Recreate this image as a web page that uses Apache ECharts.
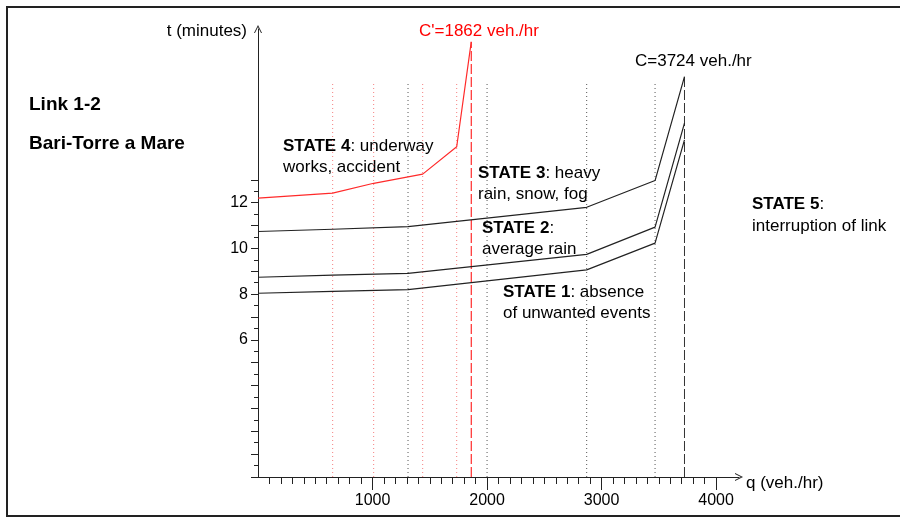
<!DOCTYPE html>
<html>
<head>
<meta charset="utf-8">
<script src="https://cdn.jsdelivr.net/npm/echarts@6/dist/echarts.min.js"></script>
<style>
html, body { margin: 0; padding: 0; background: #fff; }
#chart { width: 900px; height: 518px; }
</style>
</head>
<body>
<div id="chart"></div>
<script>
// flow q (veh./hr) where the travel-time curves bend
const qState = [0, 652, 1310, 2870, 3467, 3724];
const state1 = [8.04, 8.12, 8.2, 9.06, 10.23, 14.75];
const state2 = [8.74, 8.83, 8.91, 9.74, 10.93, 15.48];
const state3 = [10.74, 10.84, 10.95, 11.8, 12.97, 17.52];
const qState4 = [0, 652, 1010, 1438, 1735, 1862];
const state4 = [12.2, 12.42, 12.85, 13.25, 14.45, 19.04];

// dotted guides and capacities
const redGuides = [652, 1010, 1438, 1735];
const blackGuides = [1310, 2000, 2870, 3467];
const guideTop = 17.26;
const capRed = 1862, capRedTop = 19.04;
const capBlack = 3724, capBlackTop = 17.52;

// tick labels
const xLabels = [1000, 2000, 3000, 4000];
const yLabels = [6, 8, 10, 12];

const FONT = '"Liberation Sans", Arial, sans-serif';
const AXIS = '#222';
const arrow = 'path://M0,10 L5,0 L10,10 L8.8,10 L5,2.6 L1.2,10 Z';

const xMinor = [], yMajor = [], yMinor = [];
for (let v = 100; v <= 4000; v += 100) if (v % 1000) xMinor.push(v);
for (let v = 0; v <= 13; v++) yMajor.push(v);
for (let v = 0.5; v < 13; v += 1) yMinor.push(v);

const pts = (xs, ys) => xs.map((x, i) => [x, ys[i]]);

function vline(q, top, color, dash) {
    return {
        type: 'line', data: [[q, 0], [q, top]], symbol: 'none', silent: true,
        lineStyle: { color: color, width: 1, type: dash }
    };
}
function curve(xs, ys, color) {
    return {
        type: 'line', data: pts(xs, ys), symbol: 'none', silent: true,
        lineStyle: { color: color, width: 1.2 }
    };
}

const series = [];
redGuides.forEach(q => series.push(vline(q, guideTop, '#f57f7f', [1, 3])));
blackGuides.forEach(q => series.push(vline(q, guideTop, '#555', [1, 3])));
series.push(vline(capRed, capRedTop, '#f00', [10, 3]));
series.push(vline(capBlack, capBlackTop, '#333', [10, 3]));
series.push(curve(qState, state1, '#222'));
series.push(curve(qState, state2, '#222'));
series.push(curve(qState, state3, '#222'));
series.push(curve(qState4, state4, '#ff2a2a'));

function txt(x, y, text, extra) {
    return {
        type: 'text', x: x, y: y, silent: true,
        style: Object.assign({
            text: text, fill: '#000', fontSize: 17, fontFamily: FONT,
            lineHeight: 21, verticalAlign: 'top',
            rich: { b: { fontWeight: 'bold', fontSize: 17, fontFamily: FONT, lineHeight: 21 } }
        }, extra || {})
    };
}

const chart = echarts.init(document.getElementById('chart'));
chart.setOption({
    animation: false,
    backgroundColor: '#fff',
    grid: { left: 258, right: 161, top: 29, bottom: 41 },
    xAxis: [{
        type: 'value', min: 0, max: 4200, position: 'bottom',
        axisLine: { lineStyle: { color: AXIS, width: 1 }, symbol: ['none', arrow], symbolSize: [8, 8] },
        axisTick: { customValues: xLabels, length: 13, lineStyle: { color: AXIS } },
        axisLabel: { customValues: xLabels, formatter: v => String(v), color: '#000', fontSize: 16, fontFamily: FONT, margin: 16 },
        splitLine: { show: false }
    }, {
        type: 'value', min: 0, max: 4200, position: 'bottom',
        axisLine: { show: false },
        axisTick: { customValues: xMinor, length: 7, lineStyle: { color: AXIS } },
        axisLabel: { show: false },
        splitLine: { show: false }
    }],
    yAxis: [{
        type: 'value', min: 0, max: 19.6, position: 'left',
        axisLine: { show: true, lineStyle: { color: AXIS, width: 1 }, symbol: ['none', arrow], symbolSize: [8, 8] },
        axisTick: { show: true, customValues: yMajor, length: 7, lineStyle: { color: AXIS } },
        axisLabel: { customValues: yLabels, formatter: v => String(v), color: '#000', fontSize: 16, fontFamily: FONT, margin: 10 },
        splitLine: { show: false }
    }, {
        type: 'value', min: 0, max: 19.6, position: 'left',
        axisLine: { show: false },
        axisTick: { show: true, customValues: yMinor, length: 4, lineStyle: { color: AXIS } },
        axisLabel: { show: false },
        splitLine: { show: false }
    }],
    series: series,
    graphic: [
        { type: 'rect', silent: true, shape: { x: 7, y: 7, width: 900, height: 509 },
          style: { fill: 'none', stroke: '#222', lineWidth: 2 } },
        txt(247, 21, 't (minutes)', { align: 'right' }),
        txt(419, 21, "C'=1862 veh./hr", { fill: '#f00' }),
        txt(635, 51, 'C=3724 veh./hr'),
        txt(29, 94, 'Link 1-2', { fontWeight: 'bold', fontSize: 19 }),
        txt(29, 133, 'Bari-Torre a Mare', { fontWeight: 'bold', fontSize: 19 }),
        txt(283, 136, '{b|STATE 4}: underway\nworks, accident', { lineHeight: 20 }),
        txt(478, 163, '{b|STATE 3}: heavy\nrain, snow, fog'),
        txt(482, 218, '{b|STATE 2}:\naverage rain'),
        txt(503, 282, '{b|STATE 1}: absence\nof unwanted events'),
        txt(752, 193, '{b|STATE 5}:\ninterruption of link', { lineHeight: 22 }),
        txt(746, 473, 'q (veh./hr)')
    ]
});
</script>
</body>
</html>
